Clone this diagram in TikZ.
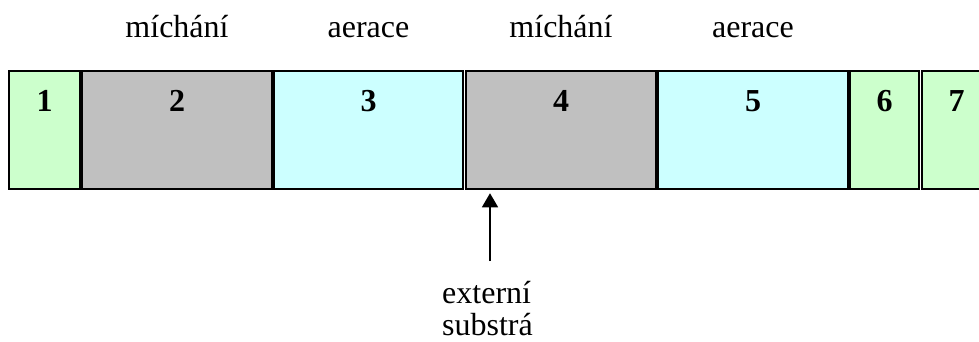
\documentclass[tikz,border=0pt]{standalone}
\usepackage{fontspec}
\setmainfont{Liberation Serif}
\usetikzlibrary{calc,arrows.meta}
\definecolor{cgreen}{HTML}{CCFFCC}
\definecolor{cgray}{HTML}{C0C0C0}
\definecolor{ccyan}{HTML}{CCFFFF}
\definecolor{cedge}{HTML}{808080}
\tikzset{
  cellbox/.style={rectangle,inner sep=0pt,minimum height=118pt,draw=black,line width=1.5pt},
  num/.style={inner sep=0pt,anchor=base,font=\fontsize{32}{32}\selectfont\bfseries},
  lbl/.style={inner sep=0pt,anchor=base,font=\fontsize{32}{32}\selectfont},
  arr/.style={-{Triangle[length=14pt,width=16pt]},line width=1.4pt}
}
\begin{document}
\begin{tikzpicture}[x=1pt,y=-1pt]
\useasboundingbox[fill=white] (0,0) rectangle (979,342);
\clip (0,0) rectangle (979,342);
\node[cellbox,fill=cgreen,minimum width=71pt] (b1) at (44.5,130) {};
\node[cellbox,fill=cgray,minimum width=190pt] (b2) at (177,130) {};
\node[cellbox,fill=ccyan,minimum width=189pt] (b3) at (368.5,130) {};
\node[cellbox,fill=cgray,minimum width=190pt] (b4) at (561,130) {};
\node[cellbox,fill=ccyan,minimum width=190pt] (b5) at (753,130) {};
\node[cellbox,fill=cgreen,minimum width=69pt] (b6) at (884.5,130) {};
\node[cellbox,fill=cgreen,minimum width=69pt] (b7) at (956.5,130) {};
\foreach \i in {1,...,7}{
  \node[num] (n\i) at ($(b\i.north)+(0,41.7)$) {\i};
}
\node[lbl] (t2) at ($(b2.north)+(0,-33)$) {míchání};
\node[lbl] (t3) at ($(b3.north)+(0,-33)$) {aerace};
\node[lbl] (t4) at ($(b4.north)+(0,-33)$) {míchání};
\node[lbl] (t5) at ($(b5.north)+(0,-33)$) {aerace};
\node[inner sep=0pt,anchor=base west,align=left,font=\fontsize{32}{32}\selectfont] (ext) at (442,335) {externí\\substrá};
\coordinate (as) at (490,261);
\draw[arr,shorten >=3.5pt] (as) -- (as |- b4.south);
\end{tikzpicture}
\end{document}
